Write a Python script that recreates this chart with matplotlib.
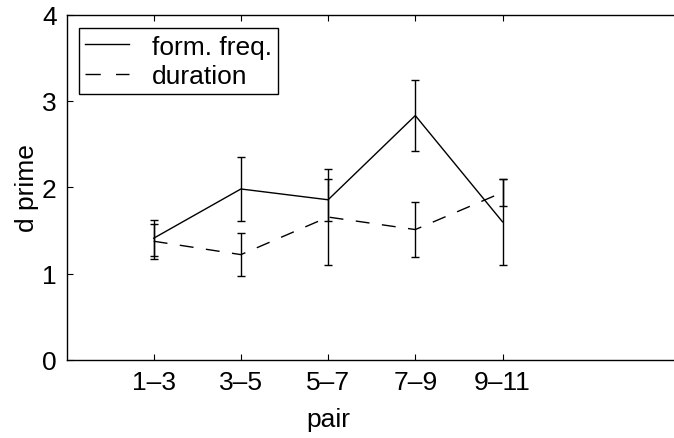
import numpy as np
import matplotlib
matplotlib.use('Agg')
import matplotlib.pyplot as plt
from matplotlib.lines import Line2D

plt.rcParams['font.family'] = 'Liberation Sans'

pairs = ['1\u20133', '3\u20135', '5\u20137', '7\u20139', '9\u201311']
form_freq = [1.41, 1.98, 1.855, 2.83, 1.60]
form_freq_err = [0.21, 0.37, 0.24, 0.41, 0.50]
duration = [1.375, 1.22, 1.655, 1.51, 1.94]
duration_err = [0.20, 0.25, 0.555, 0.32, 0.155]

x = np.arange(1, len(pairs) + 1)
fs = 19

fig = plt.figure(figsize=(6.74, 4.39), dpi=100)
# right spine falls just outside the picture, like the cropped original
ax = fig.add_axes([66.5/674, 78/439, 610.4/674, 345.5/439])

ax.errorbar(x, form_freq, yerr=form_freq_err, color='k', linestyle='-',
            linewidth=1.0, elinewidth=1.0, capsize=3, capthick=1.0)
ax.errorbar(x, duration, yerr=duration_err, color='k', linestyle='--',
            dashes=(10, 9), linewidth=1.0, elinewidth=1.0, capsize=3,
            capthick=1.0)

ax.set_xlim(0, 7)
ax.set_ylim(0, 4)
ax.set_xticks(x)
ax.set_xticklabels(pairs)
ax.set_yticks([0, 1, 2, 3, 4])
ax.tick_params(direction='in', length=4, width=0.8, top=True, right=False,
               labelsize=fs, pad=7)
for s in ax.spines.values():
    s.set_linewidth(1.0)

ax.set_xlabel('pair', fontsize=fs)
ax.xaxis.set_label_coords(3 / 7, -0.135)
ax.set_ylabel('d prime', fontsize=fs, labelpad=2)

handles = [Line2D([], [], color='k', linewidth=1.0, linestyle='-'),
           Line2D([], [], color='k', linewidth=1.0, linestyle='--', dashes=(11, 11))]
leg = ax.legend(handles, ['form. freq.', 'duration'], loc='upper left',
                bbox_to_anchor=(0.02, 0.961), borderaxespad=0, fontsize=fs,
                fancybox=False, edgecolor='k', framealpha=1, handlelength=1.65,
                handletextpad=0.86, labelspacing=0.2, borderpad=0.25)
leg.get_frame().set_linewidth(1.0)

fig.savefig('out.png', dpi=100)
